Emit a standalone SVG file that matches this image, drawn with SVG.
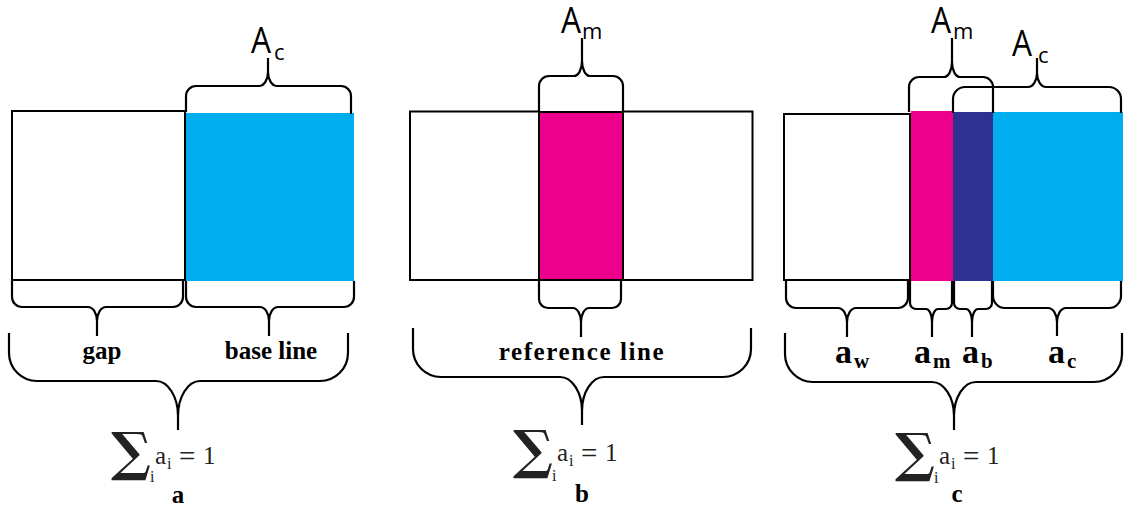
<svg xmlns="http://www.w3.org/2000/svg" width="1126" height="510" viewBox="0 0 1126 510">
<style>
.box{fill:#fff;stroke:#000;stroke-width:2}
.blue{fill:#00AEEF}
.mag{fill:#EC008C}
.navy{fill:#2E3192}
.br{fill:none;stroke:#000;stroke-width:2.2;stroke-linejoin:round}
.A{font-family:"Open Sans",sans-serif;font-size:36px;fill:#000}
.As{font-family:"Open Sans",sans-serif;font-size:22px;fill:#000}
.lb{font-family:"Liberation Serif",serif;font-weight:bold;font-size:25px;fill:#000}
.la{font-family:"Liberation Serif",serif;font-weight:bold;font-size:34px;fill:#000}
.ls{font-family:"Liberation Serif",serif;font-weight:bold;font-size:21px;fill:#000}
.sig{font-family:"DejaVu Serif",serif;font-weight:bold;font-size:53px;fill:#222}
.f{font-family:"Liberation Serif",serif;font-size:25px;fill:#222}
.eq{font-family:"Liberation Serif",serif;font-size:29px;fill:#222}
.fs{font-family:"Liberation Serif",serif;font-size:16px;fill:#222}
</style>
<rect width="1126" height="510" fill="#fff"/>
<g id="panel-a">
<rect class="box" x="12" y="111" width="173" height="169"/>
<rect class="blue" x="186" y="113" width="168" height="168"/>
</g>
<g id="panel-b">
<rect class="box" x="410" y="111.5" width="129" height="168.5"/>
<rect class="box" x="623" y="111.5" width="129.5" height="168.5"/>
<rect class="mag" x="539" y="112" width="84" height="168" stroke="#000" stroke-width="2"/>
</g>
<g id="panel-c">
<rect class="box" x="784" y="114" width="126" height="166"/>
<rect class="mag" x="911" y="111" width="42" height="170"/>
<rect class="navy" x="953" y="112" width="40" height="169"/>
<rect class="blue" x="993" y="112" width="130" height="169"/>
</g>
<g id="braces">
<path class="br" d="M186 112 L186 96 C186 90.5 190.5 86 196 86 L259 86 C264 86 268 79.7 268 72 L268 58 M268 72 C268 79.7 272 86 277 86 L341 86 C346.5 86 351 90.5 351 96 L351 114"/>
<path class="br" d="M12 280 L12 297 C12 302.5 16.5 307 22 307 L88 307 C93 307 97 313.3 97 321 L97 336 M97 321 C97 313.3 101 307 106 307 L173 307 C178.5 307 183 302.5 183 297 L183 280"/>
<path class="br" d="M186 281 L186 297 C186 302.5 190.5 307 196 307 L260 307 C265 307 269 313.3 269 321 L269 336 M269 321 C269 313.3 273 307 278 307 L344 307 C349.5 307 354 302.5 354 297 L354 281"/>
<path class="br" d="M9 333 L9 353 C9 368.5 21.5 381 37 381 L156 381 C168 381 178 396.7 178 416 L178 430 M178 416 C178 396.7 188 381 200 381 L320 381 C335.5 381 348 368.5 348 353 L348 333"/>
<path class="br" d="M539 112 L539 86 C539 80.5 543.5 76 549 76 L574 76 C578.4 76 582 69.3 582 61 L582 38 M582 61 C582 69.3 585.6 76 590 76 L613 76 C618.5 76 623 80.5 623 86 L623 112"/>
<path class="br" d="M539 280 L539 299 C539 304 543 308 548 308 L573 308 C577.4 308 581 314.3 581 322 L581 337 M581 322 C581 314.3 584.6 308 589 308 L612 308 C617 308 621 304 621 299 L621 280"/>
<path class="br" d="M413 328 L413 349 C413 364.5 425.5 377 441 377 L560 377 C572 377 582 392.2 582 411 L582 425 M582 411 C582 392.2 592 377 604 377 L723 377 C738.5 377 751 364.5 751 349 L751 328"/>
<path class="br" d="M909 112 L909 87 C909 81.5 913.5 77 919 77 L944 77 C948.4 77 952 70.3 952 62 L952 38 M952 62 C952 70.3 955.6 77 960 77 L983 77 C988.5 77 993 81.5 993 87 L993 113"/>
<path class="br" d="M953 113 L953 99 C953 92.4 958.4 87 965 87 L1028 87 C1033 87 1037 80.7 1037 73 L1037 58 M1037 73 C1037 80.7 1041 87 1046 87 L1109 87 C1115.6 87 1121 92.4 1121 99 L1121 113"/>
<path class="br" d="M786 280 L786 298 C786 303.5 790.5 308 796 308 L838 308 C843 308 847 314.3 847 322 L847 337 M847 322 C847 314.3 851 308 856 308 L898 308 C903.5 308 908 303.5 908 298 L908 280"/>
<path class="br" d="M910 281 L910 303 C910 306.3 912.7 309 916 309 L926 309 C929.3 309 932 314.8 932 322 L932 337 M932 322 C932 314.8 934.7 309 938 309 L946 309 C949.3 309 952 306.3 952 303 L952 281"/>
<path class="br" d="M954 281 L954 303 C954 306.3 956.7 309 960 309 L966 309 C969.3 309 972 314.8 972 322 L972 337 M972 322 C972 314.8 974.7 309 978 309 L986 309 C989.3 309 992 306.3 992 303 L992 281"/>
<path class="br" d="M993 281 L993 296 C993 302.6 998.4 308 1005 308 L1048 308 C1053 308 1057 314.3 1057 322 L1057 336 M1057 322 C1057 314.3 1061 308 1066 308 L1109 308 C1115.6 308 1121 302.6 1121 296 L1121 281"/>
<path class="br" d="M785 333 L785 354 C785 369.5 797.5 382 813 382 L932 382 C944 382 954 397.2 954 416 L954 430 M954 416 C954 397.2 964 382 976 382 L1094 382 C1109.5 382 1122 369.5 1122 354 L1122 333"/>
</g>
<g id="label-Ac-a"><text class="A" transform="translate(251,53) scale(0.88,1)">A</text><text class="As" x="274" y="60">c</text></g>
<g id="label-Am-b"><text class="A" transform="translate(561,33) scale(0.88,1)">A</text><text class="As" x="582" y="39">m</text></g>
<g id="label-Am-c"><text class="A" transform="translate(931,33) scale(0.88,1)">A</text><text class="As" x="953" y="39">m</text></g>
<g id="label-Ac-c"><text class="A" transform="translate(1012,56) scale(0.88,1)">A</text><text class="As" x="1038" y="63">c</text></g>
<g id="label-gap"><text class="lb" x="102" y="359" text-anchor="middle">gap</text></g>
<g id="label-base"><text class="lb" x="271" y="359" text-anchor="middle">base line</text></g>
<g id="label-ref"><text class="lb" x="582" y="360" text-anchor="middle" letter-spacing="1.6">reference line</text></g>
<g id="label-aw"><text class="la" x="835" y="363">a</text><text class="ls" x="854" y="368">w</text></g>
<g id="label-am"><text class="la" x="914" y="363">a</text><text class="ls" x="933" y="368">m</text></g>
<g id="label-ab"><text class="la" x="962" y="363">a</text><text class="ls" x="981" y="368">b</text></g>
<g id="label-ac"><text class="la" x="1048" y="363">a</text><text class="ls" x="1067" y="368">c</text></g>
<g id="sum-a">
<text class="sig" x="111" y="470">∑</text><text class="fs" x="150" y="482">i</text>
<text class="f" x="155" y="464">a</text><text class="fs" x="167" y="469">i</text>
<text class="eq" x="179" y="466">=</text><text class="f" x="203" y="464">1</text>
</g>
<g id="sum-b">
<text class="sig" x="513" y="468">∑</text><text class="fs" x="552" y="481">i</text>
<text class="f" x="557" y="461">a</text><text class="fs" x="569" y="466">i</text>
<text class="eq" x="581" y="463">=</text><text class="f" x="605" y="461">1</text>
</g>
<g id="sum-c">
<text class="sig" x="895" y="471">∑</text><text class="fs" x="934" y="483">i</text>
<text class="f" x="939" y="464">a</text><text class="fs" x="951" y="469">i</text>
<text class="eq" x="963" y="466">=</text><text class="f" x="987" y="464">1</text>
</g>
<g id="cap-a"><text class="lb" x="178" y="503" text-anchor="middle">a</text></g>
<g id="cap-b"><text class="lb" x="582" y="502" text-anchor="middle">b</text></g>
<g id="cap-c"><text class="lb" x="957" y="502" text-anchor="middle">c</text></g>
</svg>
